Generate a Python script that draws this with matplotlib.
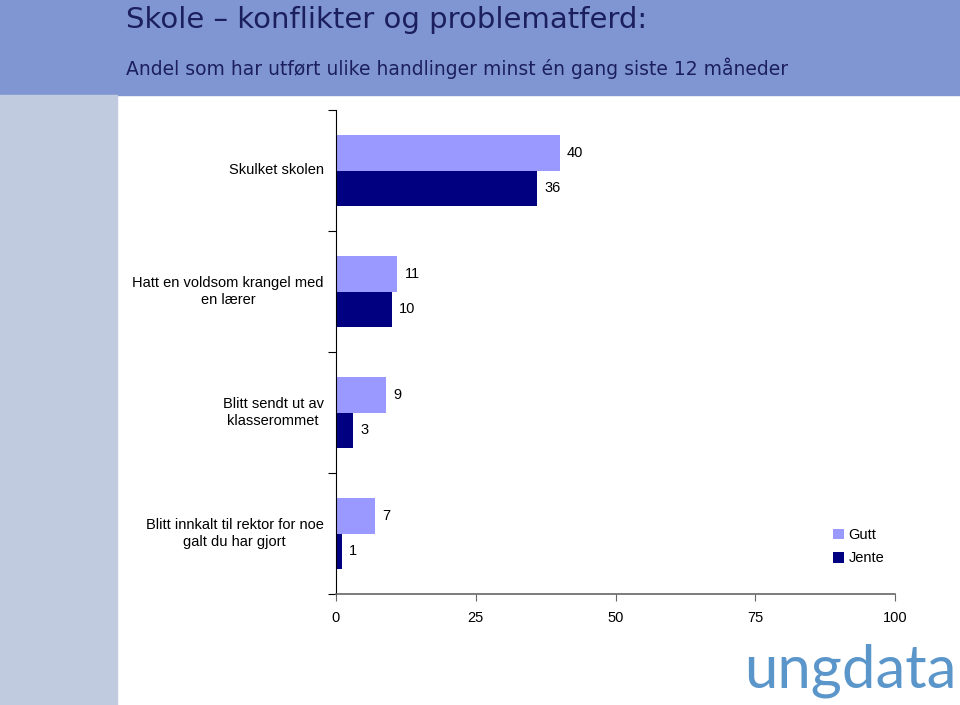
import matplotlib.pyplot as plt
import numpy as np

# data
categories = ["Skulket skolen",
              "Hatt en voldsom krangel med\nen lærer",
              "Blitt sendt ut av\nklasserommet",
              "Blitt innkalt til rektor for noe\ngalt du har gjort"]
gutt = [40, 11, 9, 7]
jente = [36, 10, 3, 1]
x_ticks = [0, 25, 50, 75, 100]

col_gutt = "#9999FF"
col_jente = "#000080"

plt.rcParams['font.family'] = ['Liberation Sans', 'DejaVu Sans']

fig = plt.figure(figsize=(9.6, 7.05), dpi=100)

# header band and side band
fig.patches.append(plt.Rectangle((0, 1 - 95/705), 1, 95/705, transform=fig.transFigure,
                                 color="#8096D2", zorder=0))
fig.patches.append(plt.Rectangle((0, 0), 117/960, 1 - 95/705, transform=fig.transFigure,
                                 color="#C0CBDF", zorder=0))

fig.text(126/960, 1 - 28/705, "Skole – konflikter og problematferd:", fontsize=21,
         color="#1C1F5E", va="baseline", family=['DejaVu Sans'])
fig.text(126/960, 1 - 75/705, "Andel som har utført ulike handlinger minst én gang siste 12 måneder",
         fontsize=13.5, color="#1C1F5E", va="baseline", family=['DejaVu Sans'])

ax = fig.add_axes([336/960, 1 - 594/705, (895 - 336)/960, (594 - 110)/705])

n = len(categories)
pos = np.arange(n)[::-1]  # top to bottom
h = 0.29
ax.barh(pos + h/2, gutt, height=h, color=col_gutt, label="Gutt")
ax.barh(pos - h/2, jente, height=h, color=col_jente, label="Jente")

for p, g, j in zip(pos, gutt, jente):
    ax.text(g + 1.3, p + h/2, str(g), va="center", ha="left", fontsize=10.5)
    ax.text(j + 1.3, p - h/2, str(j), va="center", ha="left", fontsize=10.5)

ax.set_xlim(0, 100)
ax.set_ylim(-0.5, n - 0.5)
ax.set_xticks(x_ticks)
ax.set_xticklabels([str(t) for t in x_ticks], fontsize=10.5)
ax.tick_params(axis="x", direction="out", length=5, pad=7, color="#666666")

ax.set_yticks(np.arange(-0.5, n, 1.0))
ax.set_yticklabels([])
ax.tick_params(axis="y", direction="out", length=6, color="black")
for p, c in zip(pos, categories):
    ax.text(-2.2, p, c, ha="right", va="center", multialignment="center", fontsize=10.5)

for s in ["top", "right"]:
    ax.spines[s].set_visible(False)
ax.spines["left"].set_color("black")
ax.spines["bottom"].set_color("#666666")
ax.spines["bottom"].set_linewidth(1.2)

fig.legend(loc="upper left", bbox_to_anchor=(833/960, 1 - 528/705), frameon=False,
           fontsize=10.5, handlelength=0.75, handleheight=0.75, handletextpad=0.3,
           labelspacing=0.65, borderaxespad=0, borderpad=0)

# logo
fig.text(957/960, 1 - 688/705, "ungdata", fontsize=43, color="#5B96CB", ha="right",
         va="baseline", family=['Lato', 'DejaVu Sans'])

fig.savefig("out.png", dpi=100)
